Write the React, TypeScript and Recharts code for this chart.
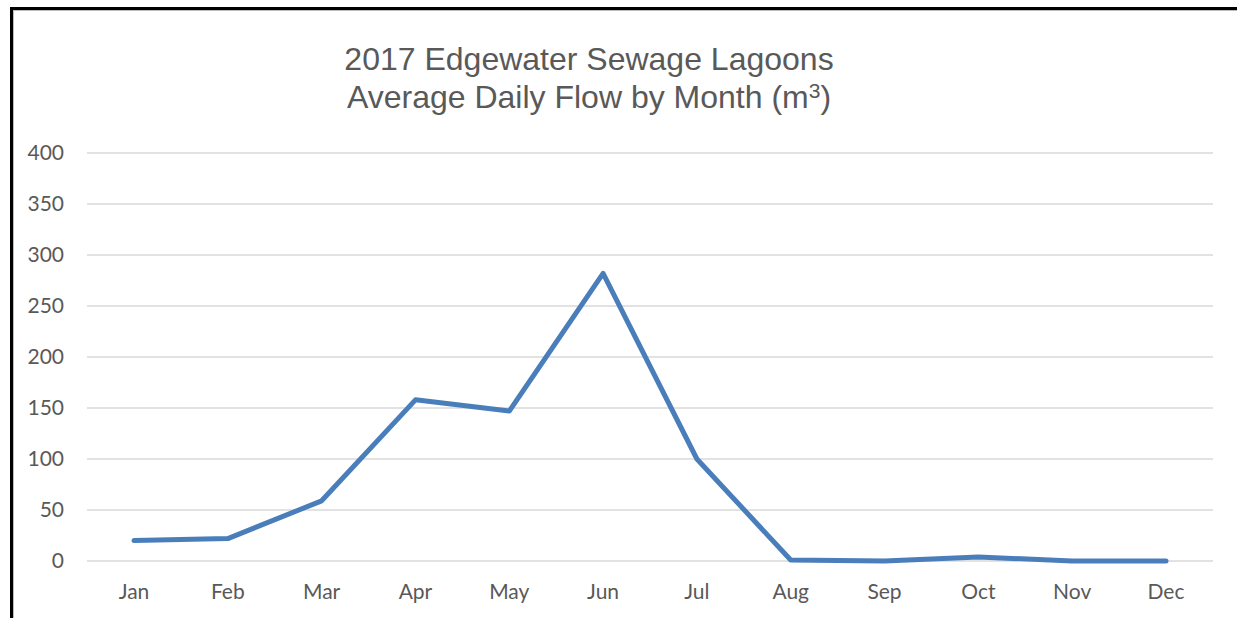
import { CartesianGrid, Line, LineChart, XAxis, YAxis } from "recharts";

const months = ["Jan", "Feb", "Mar", "Apr", "May", "Jun", "Jul", "Aug", "Sep", "Oct", "Nov", "Dec"];
const avgDailyFlow = [20, 22, 59, 158, 147, 282, 100, 1, 0, 4, 0, 0];
const yTicks = [0, 50, 100, 150, 200, 250, 300, 350, 400];

const data = months.map((month, i) => ({ month, flow: avgDailyFlow[i] }));

const tickStyle = { fill: "#595959", fontSize: 21, fontFamily: "Lato, 'Open Sans', sans-serif" };

export default function App() {
  return (
    <div style={{ position: "fixed", left: 0, top: 0, width: 1237, height: 618, background: "#fff", overflow: "hidden" }}>
      <div
        style={{
          position: "absolute",
          left: 10,
          top: 7,
          width: 1300,
          height: 700,
          borderLeft: "3px solid #000",
          borderTop: "3px solid #000",
          boxShadow: "1px 1px 0 #bbb inset",
        }}
      />
      <div
        style={{
          position: "absolute",
          left: 0,
          top: 40,
          width: 1178,
          textAlign: "center",
          fontFamily: "'Liberation Sans', Arial, sans-serif",
          fontSize: 32,
          lineHeight: "38px",
          color: "#595959",
        }}
      >
        <div>2017 Edgewater Sewage Lagoons</div>
        <div>
          Average Daily Flow by Month (m<sup style={{ fontSize: 21, lineHeight: 0, verticalAlign: "10px" }}>3</sup>)
        </div>
      </div>
      <LineChart width={1237} height={618} data={data} margin={{ top: 153, right: 24, bottom: 0, left: 27 }}>
        <CartesianGrid vertical={false} stroke="#d9d9d9" strokeWidth={1.5} />
        <XAxis
          dataKey="month"
          axisLine={false}
          tickLine={false}
          tickSize={0}
          tickMargin={23}
          height={57}
          interval={0}
          padding={{ left: 47, right: 47 }}
          tick={tickStyle}
        />
        <YAxis
          domain={[0, 400]}
          ticks={yTicks}
          axisLine={false}
          tickLine={false}
          tickSize={0}
          tickMargin={23}
          width={60}
          tick={tickStyle}
        />
        <Line
          type="linear"
          dataKey="flow"
          stroke="#4a7ebb"
          strokeWidth={5}
          strokeLinecap="round"
          strokeLinejoin="round"
          dot={false}
          activeDot={false}
          isAnimationActive={false}
        />
      </LineChart>
    </div>
  );
}
